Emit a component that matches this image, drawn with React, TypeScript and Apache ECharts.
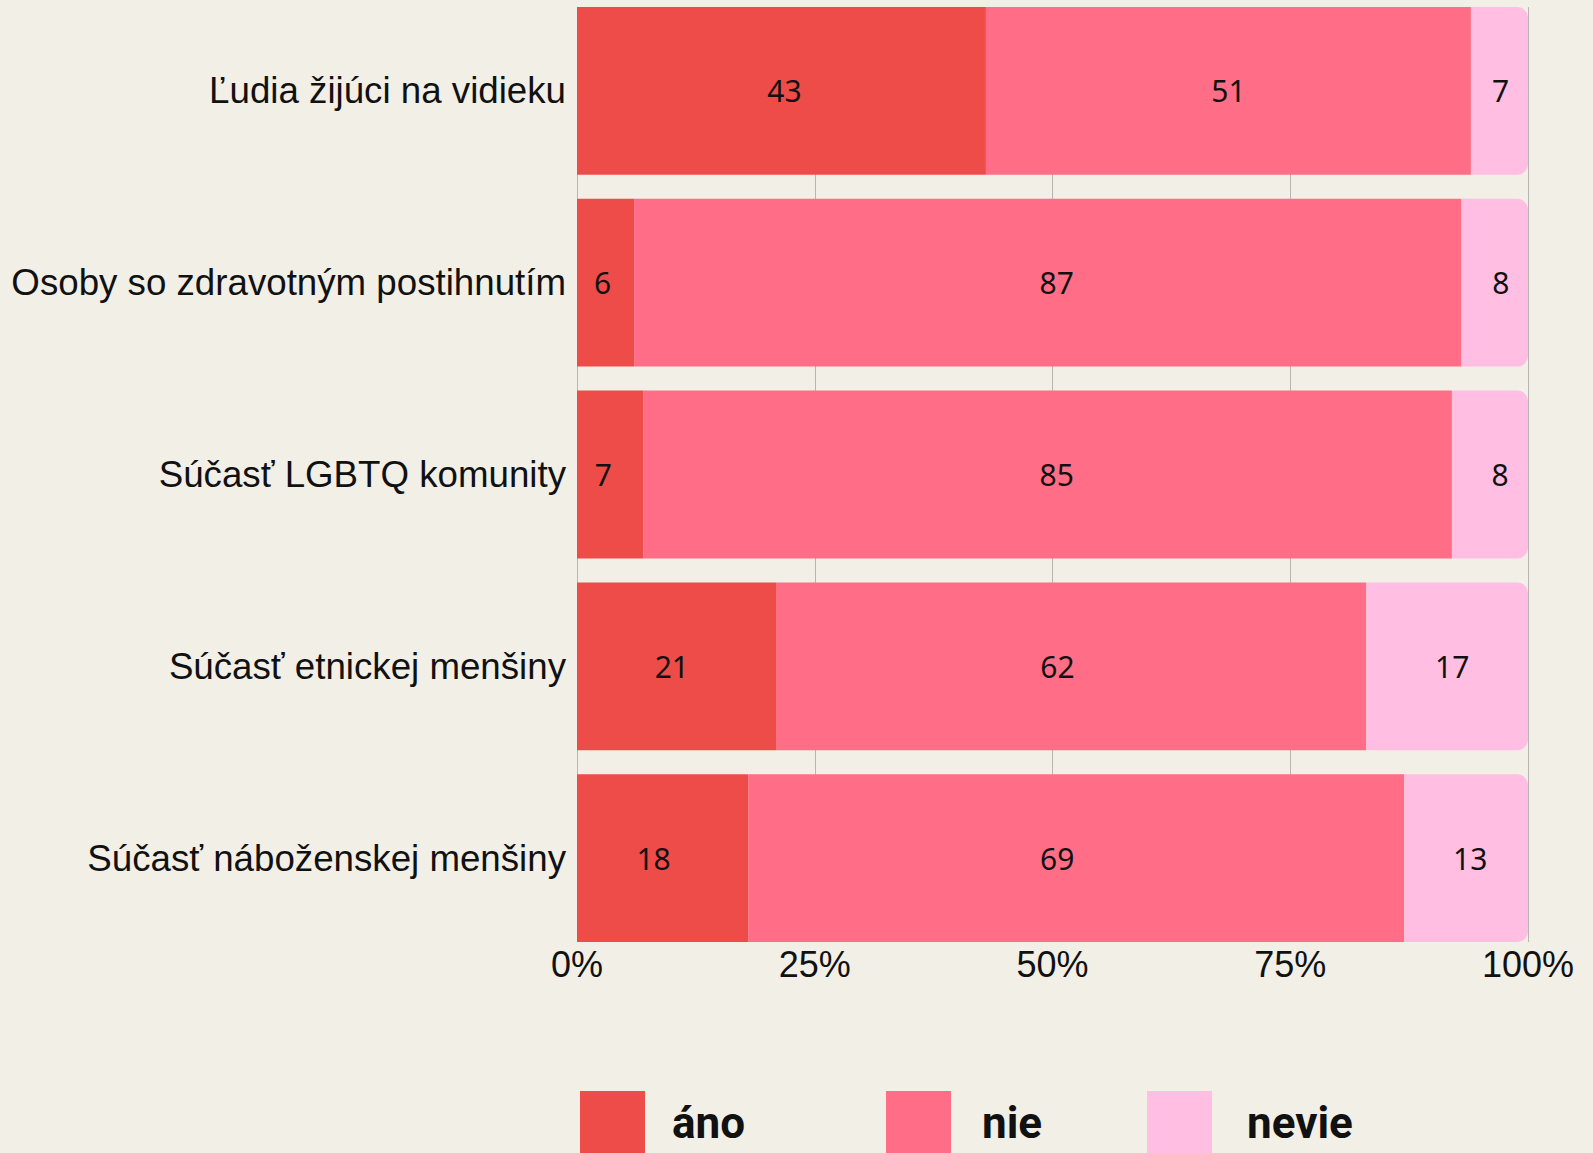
import React, { useEffect, useRef } from "react";
import * as echarts from "echarts";

const categories = [
  "Ľudia žijúci na vidieku",
  "Osoby so zdravotným postihnutím",
  "Súčasť LGBTQ komunity",
  "Súčasť etnickej menšiny",
  "Súčasť náboženskej menšiny",
];
const seriesNames = ["áno", "nie", "nevie"];
const anoValues = [43, 6, 7, 21, 18];
const nieValues = [51, 87, 85, 62, 69];
const nevieValues = [7, 8, 8, 17, 13];
const tickValues = [0, 25, 50, 75, 100];

// styling: horizontal nudges of the value labels (px), per series and row
const labelNudges = [
  [3, -3, -7, -5, -9],
  [0, 9, 9, -14, -19],
  [1, 6, 10, 5, 4],
];

const colors = ["#EE4C48", "#FF6E86", "#FFBEE2"];
const BG = "#F2EFE7";
const LABEL_FONT = "'Liberation Sans', Arial, sans-serif";
const NUM_FONT = "'Noto Sans', 'Open Sans', sans-serif";
const LEGEND_FONT = "Roboto, 'Liberation Sans', sans-serif";
const SHIFT = 10; // chart div is placed SHIFT px above the page top

export default function App() {
  const ref = useRef<HTMLDivElement>(null);
  useEffect(() => {
    document.body.style.margin = "0";
    document.body.style.background = BG;
    const chart = echarts.init(ref.current!, undefined, { renderer: "svg" });
    const values = [anoValues, nieValues, nevieValues];
    const series = seriesNames.map((name, i) => ({
      name,
      type: "bar",
      stack: "total",
      xAxisIndex: 0,
      yAxisIndex: 0,
      barCategoryGap: "12.5%",
      data: values[i].map((v, j) => ({
        value: v,
        label: { offset: [labelNudges[i][j], 0] },
      })),
      itemStyle: {
        color: colors[i],
        borderRadius: i === 2 ? [0, 11, 11, 0] : 0,
      },
      label: {
        show: true,
        position: "inside",
        color: "#111",
        fontSize: 30,
        fontFamily: NUM_FONT,
        formatter: "{c}",
      },
      clip: true,
    }));
    const legendLefts = [580, 886, 1147];
    const legendPads = [[0, 0, 0, 22], [0, 0, 0, 26], [0, 0, 0, 30]];
    chart.setOption({
      animation: false,
      backgroundColor: BG,
      grid: [
        { left: 577, right: 65, top: -5 + SHIFT, height: 959 },
        { left: 577, right: 65, top: 7 + SHIFT, height: 935 },
      ],
      xAxis: [
        { gridIndex: 0, type: "value", min: 0, max: 100, show: false },
        {
          gridIndex: 1,
          type: "value",
          min: 0,
          max: 100,
          interval: 25,
          axisLine: { show: false },
          axisTick: { show: false },
          splitLine: { show: true, lineStyle: { color: "#B8B6B1", width: 1 } },
          axisLabel: {
            formatter: (v: number) => (tickValues.includes(v) ? v + "%" : ""),
            fontSize: 36,
            fontFamily: LABEL_FONT,
            color: "#111",
            margin: 4,
          },
        },
      ],
      yAxis: [
        {
          gridIndex: 0,
          type: "category",
          inverse: true,
          data: categories,
          axisLine: { show: false },
          axisTick: { show: false },
          axisLabel: {
            fontSize: 36.7,
            fontFamily: LABEL_FONT,
            color: "#111",
            margin: 11,
          },
        },
        { gridIndex: 1, type: "value", show: false },
      ],
      legend: seriesNames.map((n, i) => ({
        data: [n],
        left: legendLefts[i],
        top: 1091 + SHIFT,
        padding: 0,
        icon: "rect",
        itemWidth: 65,
        itemHeight: 64,
        selectedMode: false,
        textStyle: {
          fontSize: 44,
          fontWeight: "bold",
          fontFamily: LEGEND_FONT,
          color: "#111",
          padding: legendPads[i],
        },
      })),
      series,
    });
    return () => chart.dispose();
  }, []);
  return (
    <div
      ref={ref}
      style={{
        position: "fixed",
        left: 0,
        top: -SHIFT,
        width: 1593,
        height: 1153 + SHIFT,
      }}
    />
  );
}
